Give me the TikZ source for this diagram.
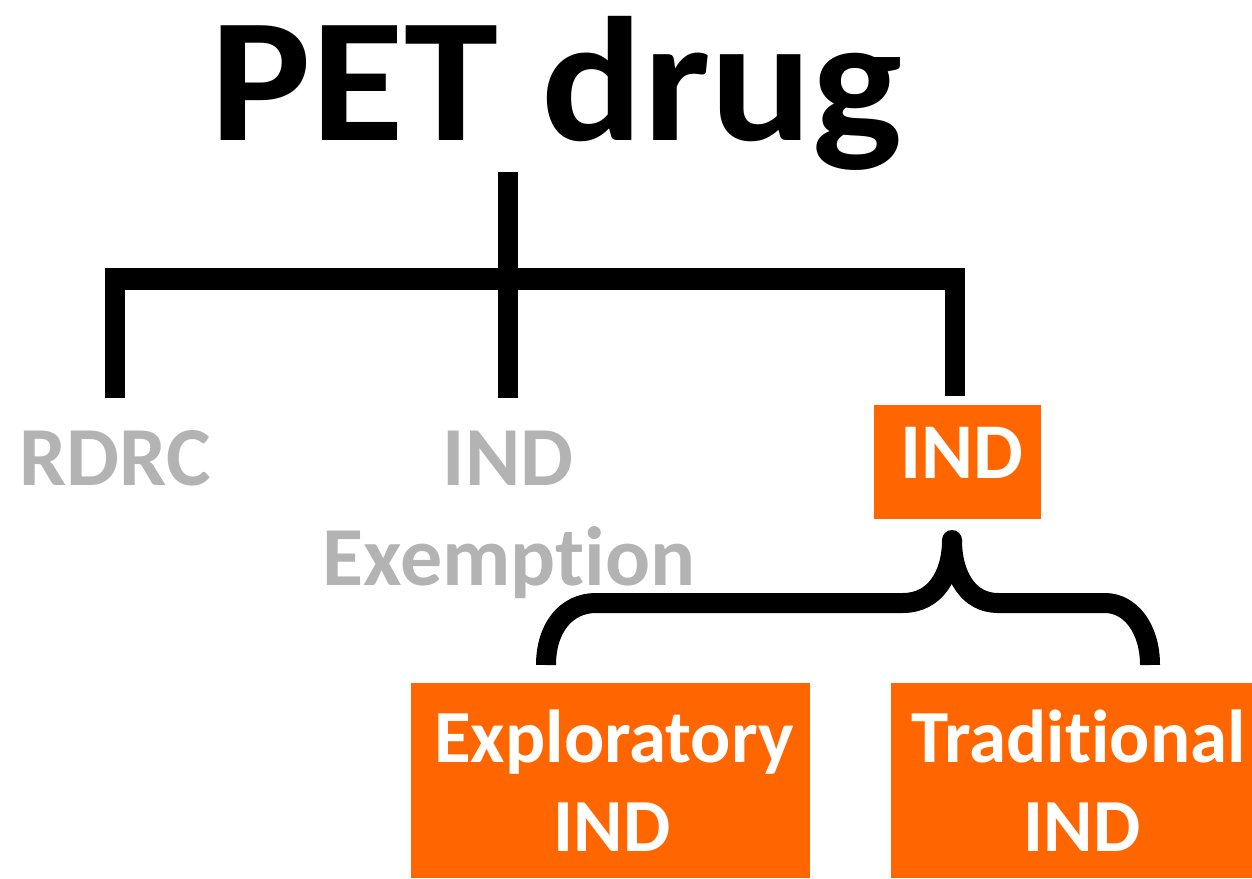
\documentclass[tikz,border=0pt]{standalone}
\usepackage{fontspec}
\setmainfont{Carlito}[Ligatures=NoCommon]
\definecolor{orng}{HTML}{FF6600}
\definecolor{gry}{HTML}{B3B3B3}
\tikzset{
  big/.style={font=\bfseries\fontsize{177}{177}\selectfont, inner sep=0pt},
  graytext/.style={font=\bfseries\fontsize{84}{87}\selectfont, text=gry, inner sep=0pt, anchor=base},
  obox/.style={fill=orng, inner sep=0pt},
  wtext/.style={text=white, font=\bfseries\fontsize{75}{89}\selectfont, inner sep=0pt, anchor=base},
  bar/.style={line width=20pt, line cap=butt},
}
\begin{document}
\begin{tikzpicture}[x=1pt,y=-1pt]
\useasboundingbox (0,0) rectangle (1252,878);
\node[big, anchor=base] (title) at (556.5,140) {\scalebox{1.072}[1]{PET drug}};
% bracket
\coordinate (top) at (508,172);
\coordinate (mid) at (508,279);
\coordinate (bl) at (105,279);
\coordinate (br) at (965,279);
\coordinate (l1) at (115,269);
\coordinate (l1e) at (115,398);
\coordinate (l2) at (508,279);
\coordinate (l2e) at (508,398);
\coordinate (l3) at (955,269);
\coordinate (l3e) at (955,396);
\draw[bar] (top) -- (mid);
\draw[bar, line width=22pt] (bl) -- (br);
\draw[bar] (l1) -- (l1e);
\draw[bar] (l2) -- (l2e);
\draw[bar] (l3) -- (l3e);
% gray labels
\node[graytext] (rdrc) at (115,485) {RDRC};
\node[graytext] (indx) at (508,485) {IND};
\node[graytext] (exem) at (509,585) {Exemption};
% orange boxes
\node[obox, minimum width=167pt, minimum height=114pt] (ind) at (957.5,462) {};
\node[wtext, font=\bfseries\fontsize{79}{89}\selectfont] (indt) at (961.5,478) {IND};
\node[obox, minimum width=399pt, minimum height=195pt] (expl) at (610.5,780.5) {};
\node[wtext] (explt1) at (614,762) {Exploratory};
\node[wtext] (explt2) at (612,851) {IND};
\node[obox, minimum width=361pt, minimum height=195pt] (trad) at (1071.5,780.5) {};
\node[wtext] (tradt1) at (1078.5,762) {Traditional};
\node[wtext] (tradt2) at (1082,851) {IND};
% brace
\coordinate (tip) at (952,540);
\coordinate (bleft) at (546,665);
\coordinate (bright) at (1150,665);
\draw[line width=20pt, line cap=butt, line join=round]
  (bleft) .. controls (546,628) and (566,603) .. (596,603) -- (903,603)
  .. controls (935,603) and (952,575) .. (tip);
\draw[line width=20pt, line cap=butt, line join=round]
  (bright) .. controls (1150,628) and (1130,603) .. (1105,603) -- (998,603)
  .. controls (968,603) and (952,575) .. (tip);
\fill (tip) circle (10pt);
\end{tikzpicture}
\end{document}
